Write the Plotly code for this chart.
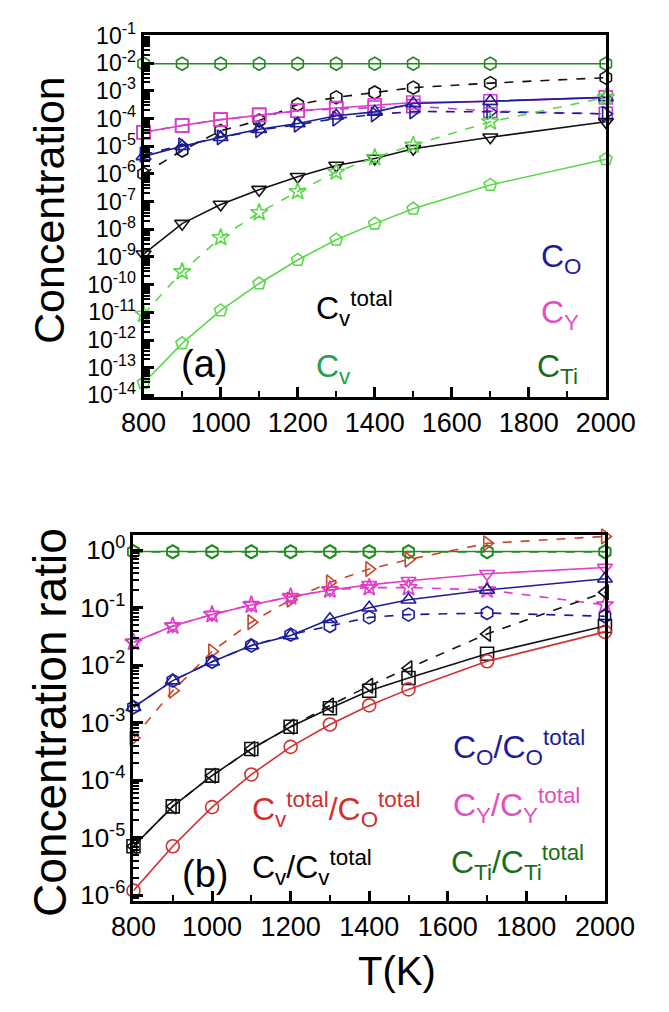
import plotly.graph_objects as go

# ---------------- data ----------------
T = [800, 900, 1000, 1100, 1200, 1300, 1400, 1500, 1700, 2000]

# panel (a): concentrations
a_CTi = [9.5e-3, 9.5e-3, 9.5e-3, 9.5e-3, 9.5e-3, 9.5e-3, 9.5e-3, 9.5e-3, 9.5e-3, 9.5e-3]
a_Cvtot_dash = [1.0e-6, 7.0e-6, 3.6e-5, 8.5e-5, 3.2e-4, 5.8e-4, 8.7e-4, 1.3e-3, 1.9e-3, 3.0e-3]
a_CY = [3.2e-5, 5.6e-5, 9.1e-5, 1.35e-4, 1.9e-4, 2.4e-4, 3.0e-4, 3.8e-4, 4.2e-4, 5.8e-4]
a_CY_dash = [3.2e-5, 5.6e-5, 9.1e-5, 1.35e-4, 1.9e-4, 2.2e-4, 2.5e-4, 2.8e-4, 1.86e-4, 1.48e-4]
a_CO = [4.3e-6, 1.0e-5, 2.1e-5, 4.1e-5, 6.6e-5, 1.26e-4, 1.74e-4, 3.5e-4, 4.2e-4, 5.8e-4]
a_CO_dash = [5.0e-6, 1.07e-5, 2.1e-5, 3.8e-5, 6.0e-5, 1.0e-4, 1.4e-4, 1.8e-4, 1.74e-4, 1.48e-4]
a_Cvtot = [1.26e-9, 1.6e-8, 7.9e-8, 2.7e-7, 7.9e-7, 2.0e-6, 3.6e-6, 8.1e-6, 2.1e-5, 7.6e-5]
a_Cv_dash = [8.5e-12, 2.95e-10, 5.0e-9, 4.0e-8, 2.3e-7, 1.17e-6, 3.9e-6, 1.1e-5, 7.6e-5, 5.8e-4]
a_Cv = [2.8e-14, 7.6e-13, 1.17e-11, 1.1e-10, 7.8e-10, 4.2e-9, 1.6e-8, 5.5e-8, 4.0e-7, 3.4e-6]

# panel (b): concentration ratios
b_Ti = [0.95, 0.95, 0.95, 0.95, 0.95, 0.95, 0.95, 0.95, 0.95, 0.95]
b_Ti_dash = [0.93, 0.93, 0.93, 0.93, 0.93, 0.93, 0.93, 0.93, 0.93, 0.93]
b_red_dash = [5.4e-4, 3.6e-3, 1.74e-2, 5.6e-2, 0.138, 0.275, 0.47, 0.69, 1.32, 1.74]
b_red = [1.2e-6, 7.1e-6, 3.4e-5, 1.26e-4, 3.8e-4, 9.3e-4, 2.0e-3, 3.8e-3, 1.17e-2, 3.8e-2]
b_blk_dash = [7.1e-6, 3.5e-5, 1.2e-4, 3.5e-4, 8.5e-4, 2.0e-3, 4.4e-3, 8.9e-3, 3.5e-2, 0.186]
b_blk = [7.1e-6, 3.5e-5, 1.2e-4, 3.5e-4, 8.5e-4, 1.78e-3, 3.6e-3, 6.0e-3, 1.58e-2, 4.8e-2]
b_O = [1.86e-3, 5.4e-3, 1.15e-2, 2.2e-2, 3.3e-2, 6.3e-2, 0.1, 0.138, 0.204, 0.32]
b_O_dash = [1.86e-3, 5.4e-3, 1.15e-2, 2.2e-2, 3.4e-2, 4.8e-2, 6.8e-2, 7.6e-2, 8.1e-2, 7.1e-2]
b_Y = [2.5e-2, 4.8e-2, 7.6e-2, 0.112, 0.155, 0.204, 0.25, 0.295, 0.39, 0.5]
b_Y_dash = [2.5e-2, 4.8e-2, 7.6e-2, 0.112, 0.155, 0.204, 0.224, 0.224, 0.204, 0.112]

a_ytickvals = [10.0 ** k for k in range(-14, 0)]
a_yticktext = ["10<sup>%d</sup>" % k for k in range(-14, 0)]
b_ytickvals = [10.0 ** k for k in range(-6, 1)]
b_yticktext = ["10<sup>%d</sup>" % k for k in range(-6, 1)]
x_tickvals = [800, 1000, 1200, 1400, 1600, 1800, 2000]

# ---------------- styles ----------------
BLUE = "#1c1c9c"
MAG = "#e03cc8"
DGREEN = "#258a25"
LGREEN = "#5ad84a"
RED = "#d23030"
RED_D = "#c8452a"
BLACK = "#111111"

W, H = 669, 1012
FONT = "Liberation Sans, Arial, sans-serif"


def px_x(p):
    return p / W


def px_y(p):
    return 1 - p / H


fig = go.Figure()


def add(y, color, symbol, dash, xa, ya, size=13):
    fig.add_trace(go.Scatter(
        x=T, y=y, mode="lines+markers", xaxis=xa, yaxis=ya,
        line=dict(color=color, width=1.6, dash=dash),
        marker=dict(symbol=symbol, size=size, color=color,
                    line=dict(color=color, width=1.6)),
        showlegend=False, cliponaxis=False))


# panel (a)
add(a_CTi, DGREEN, "hexagon-open", "solid", "x", "y")
add(a_Cvtot_dash, BLACK, "hexagon-open", "dash", "x", "y")
add(a_CY_dash, "#b040d0", "square-open", "dash", "x", "y")
add(a_CO_dash, BLUE, "triangle-right-open", "dash", "x", "y")
add(a_CY, MAG, "square-open", "solid", "x", "y")
add(a_CO, BLUE, "triangle-up-open", "solid", "x", "y")
add(a_Cvtot, BLACK, "triangle-down-open", "solid", "x", "y")
add(a_Cv_dash, LGREEN, "star-open", "dash", "x", "y")
add(a_Cv, LGREEN, "pentagon-open", "solid", "x", "y")

# panel (b)
add(b_Ti_dash, DGREEN, "hexagon-open", "dash", "x2", "y2")
add(b_Ti, DGREEN, "hexagon-open", "solid", "x2", "y2")
add(b_red_dash, RED_D, "triangle-right-open", "dash", "x2", "y2")
add(b_Y_dash, MAG, "star-open", "dash", "x2", "y2")
add(b_Y, MAG, "triangle-down-open", "solid", "x2", "y2")
add(b_O_dash, BLUE, "hexagon-open", "dash", "x2", "y2")
add(b_O, BLUE, "triangle-up-open", "solid", "x2", "y2")
add(b_blk_dash, BLACK, "triangle-left-open", "dash", "x2", "y2")
add(b_blk, BLACK, "square-open", "solid", "x2", "y2")
add(b_red, RED, "circle-open", "solid", "x2", "y2")


xcommon = dict(
    range=[800, 2000], tickmode="array", tickvals=x_tickvals,
    ticks="inside", ticklen=10, tickwidth=2.5, tickcolor="black",
    minor=dict(tick0=800, dtick=100,
               ticks="inside", ticklen=6, tickwidth=2, tickcolor="black"),
    showline=True, linecolor="black", linewidth=3, mirror=True,
    showgrid=False, zeroline=False,
    tickfont=dict(family=FONT, size=27, color="black"),
)

ycommon = dict(
    type="log", tickmode="array",
    ticks="inside", ticklen=10, tickwidth=2.5, tickcolor="black",
    showline=True, linecolor="black", linewidth=3, mirror=True,
    showgrid=False, zeroline=False,
    minor=dict(dtick="D1", ticks="inside", ticklen=6, tickwidth=2, tickcolor="black"),
)

fig.update_layout(
    width=W, height=H,
    margin=dict(l=0, r=0, t=0, b=0),
    paper_bgcolor="white", plot_bgcolor="white",
    showlegend=False,
    font=dict(family=FONT, color="black"),
    xaxis=dict(domain=[px_x(131), px_x(633)], anchor="y", **xcommon),
    yaxis=dict(domain=[px_y(391), px_y(19)], anchor="x", range=[-14.05, -1.0],
               tickvals=a_ytickvals, ticktext=a_yticktext,
               tickfont=dict(family=FONT, size=23, color="black"),
               **ycommon),
    xaxis2=dict(domain=[px_x(120), px_x(632)], anchor="y2", **xcommon),
    yaxis2=dict(domain=[px_y(910), px_y(533)], anchor="x2", range=[-6.1, 0.27],
                tickvals=b_ytickvals, ticktext=b_yticktext,
                tickfont=dict(family=FONT, size=26, color="black"),
                **ycommon),
)


def ann(text, x, y, color, size=32, xanchor="left", yanchor="middle", angle=0):
    fig.add_annotation(text=text, x=px_x(x), y=px_y(y), xref="paper", yref="paper",
                       xanchor=xanchor, yanchor=yanchor, showarrow=False,
                       textangle=angle,
                       font=dict(family=FONT, size=size, color=color))


# axis titles
ann("Concentration", 29, 199, "black", size=43, xanchor="center", angle=-90)
ann("Concentration ratio", 29, 726, "black", size=46, xanchor="center", angle=-90)
ann("T(K)", 406, 982, "black", size=40, xanchor="center")

# panel (a) labels
ann("C<sub>O</sub>", 560, 249, BLUE)
ann("C<sub>Y</sub>", 560, 306, "#e050c0")
ann("C<sub>Ti</sub>", 556, 362, "#1a6e1a")
ann("C<sub>v</sub><sup>total</sup>", 316, 300, "black")
ann("C<sub>v</sub>", 316, 362, "#20a050")
ann("(a)", 197, 357, "black", size=38, xanchor="center")

# panel (b) labels
ann("C<sub>O</sub>/C<sub>O</sub><sup>total</sup>", 465, 752, BLUE)
ann("C<sub>Y</sub>/C<sub>Y</sub><sup>total</sup>", 465, 812, "#e050c0")
ann("C<sub>Ti</sub>/C<sub>Ti</sub><sup>total</sup>", 463, 870, "#1a6e1a")
ann("C<sub>v</sub><sup>total</sup>/C<sub>O</sub><sup>total</sup>", 246, 816, RED)
ann("C<sub>v</sub>/C<sub>v</sub><sup>total</sup>", 246, 876, "black")
ann("(b)", 198, 882, "black", size=38, xanchor="center")

fig.write_html("out.html")
